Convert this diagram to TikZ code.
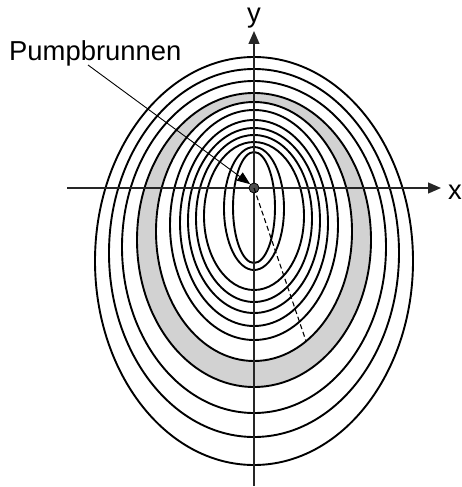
\documentclass[tikz,border=0pt]{standalone}
\usepackage{fontspec}
\setmainfont{Liberation Sans}
\usetikzlibrary{arrows.meta}
\begin{document}
\begin{tikzpicture}[x=1pt,y=-1pt,
  iso/.style={draw=black,line width=1.9pt},
  axis/.style={draw=black!85,line width=1.3pt,-{Triangle[length=13pt,width=11pt]}},
  lbl/.style={font=\fontsize{27.4}{32}\selectfont,inner sep=0pt}]
\useasboundingbox (0,0) rectangle (462,487);
% gray band
\fill[gray!35,even odd rule] (254,240) ellipse [x radius=117,y radius=147]
  (254,231.5) ellipse [x radius=98,y radius=129.5];
% isochrones
\foreach \cy/\rx/\ry in {261/159/204, 253/145/184, 247/132/166, 240/117/147,
  231.5/98/129.5, 225/84/115, 223/74/103, 220.5/66/92.5, 218.5/58/83.5,
  216/50/74, 208.5/30/61.5, 207.5/21/55.5}
  \draw[iso] (254,\cy) ellipse [x radius=\rx,y radius=\ry];
% axes
\coordinate (xs) at (67,188);
\coordinate (xe) at (441,188);
\coordinate (ys) at (254,486);
\coordinate (ye) at (254,31);
\draw[axis] (xs) -- (xe);
\draw[axis] (ys) -- (ye);
\node[lbl,anchor=base] (xl) at (455,199) {x};
\node[lbl,anchor=base] (yl) at (254,23) {y};
% well
\node[circle,draw=black,fill=black!70,minimum size=10pt,inner sep=0pt,line width=0.8pt] (well) at (254,188) {};
\coordinate (dend) at (306,341);
\draw[line width=1.1pt,dash pattern=on 5pt off 3pt] (well.center) -- (dend);
% label
\node[lbl,anchor=base west] (lab) at (9,60) {Pumpbrunnen};
\coordinate (lstart) at (88,65);
\draw[line width=0.9pt,-{Triangle[length=13pt,width=10pt]}] (lstart) -- (well.north west);
\end{tikzpicture}
\end{document}
